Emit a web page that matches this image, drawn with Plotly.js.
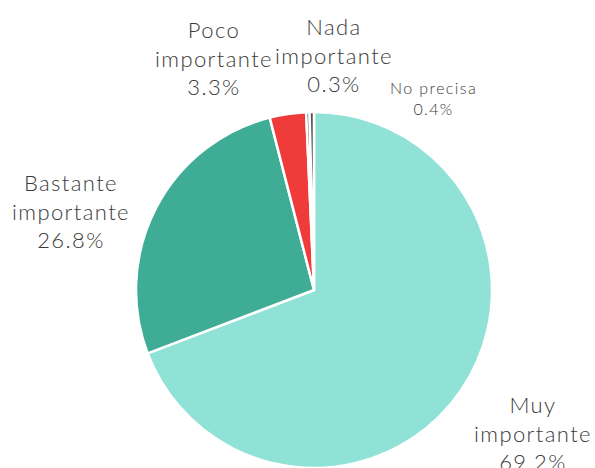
<!DOCTYPE html>
<html>
<head>
<meta charset="utf-8">
<script src="https://cdn.plot.ly/plotly-3.0.1.min.js"></script>
<style>
html,body{margin:0;padding:0;background:#fff;}
#chart{width:595px;height:468px;}
.annotation-text{letter-spacing:1.4px;}
</style>
</head>
<body>
<div id="chart"></div>
<script>
// Data
const categories = ["Muy importante", "Bastante importante", "Poco importante", "Nada importante", "No precisa"];
const labelLines = ["Muy<br>importante", "Bastante<br>importante", "Poco<br>importante", "Nada<br>importante", "No precisa"];
const values = [69.2, 26.8, 3.3, 0.3, 0.4];
const percentLabels = ["69.2%", "26.8%", "3.3%", "0.3%", "0.4%"];

// Styling
const colors = ["#8FE2D5", "#3FAC96", "#F03B3B", "#3F4A6A", "#5A524F"];
const labelPos = [ // [x, y] in paper coords, one per category
  [0.895, 0.075],
  [0.119, 0.549],
  [0.359, 0.876],
  [0.561, 0.882],
  [0.728, 0.790]
];
const labelSizes = [22, 22, 22, 22, 16];

const trace = {
  type: "pie",
  labels: categories,
  values: values,
  sort: false,
  direction: "clockwise",
  rotation: 0,
  marker: {colors: colors, line: {color: "#ffffff", width: 2.5}},
  textinfo: "none",
  hoverinfo: "label+percent",
  domain: {x: [136/595, 492/595], y: [0, 356/468]},
  showlegend: false
};

const annotations = categories.map((c, i) => ({
  xref: "paper", yref: "paper",
  x: labelPos[i][0], y: labelPos[i][1],
  xanchor: "center", yanchor: "middle",
  text: labelLines[i] + "<br>" + percentLabels[i],
  showarrow: false,
  align: "center",
  font: {family: "Lato, 'Open Sans', sans-serif", size: labelSizes[i], color: "#3a3a3a", weight: 300}
}));

const layout = {
  width: 595, height: 468,
  margin: {l: 0, r: 0, t: 0, b: 0},
  paper_bgcolor: "#ffffff",
  annotations: annotations
};

Plotly.newPlot("chart", [trace], layout, {displayModeBar: false, staticPlot: true});
</script>
</body>
</html>
